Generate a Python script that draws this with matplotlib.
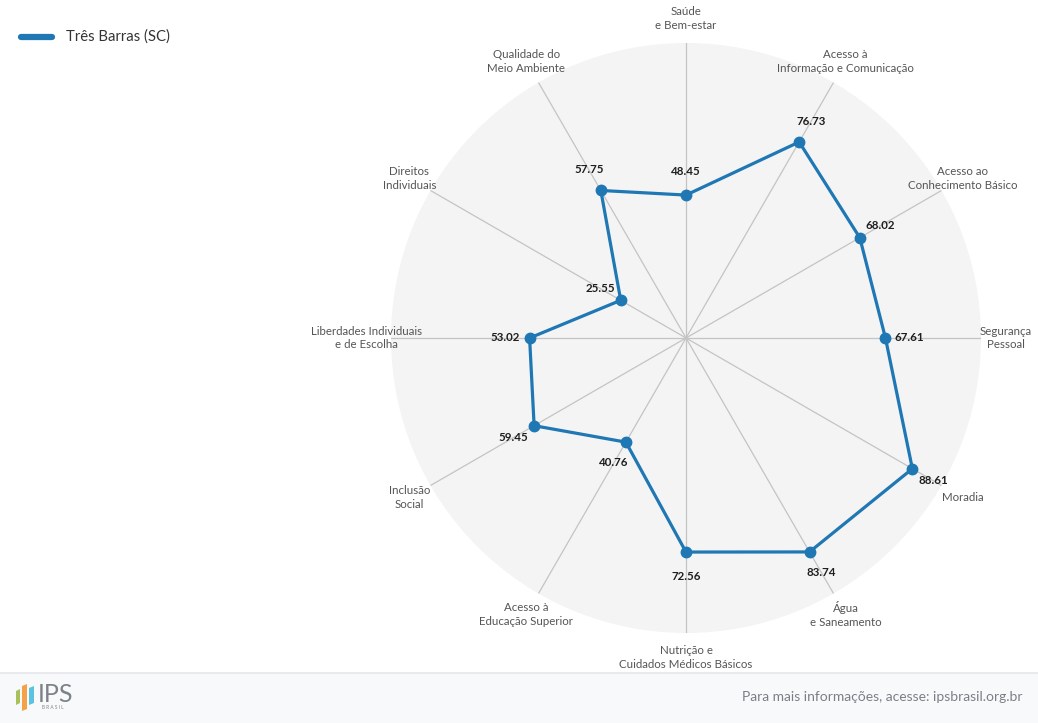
import numpy as np
import matplotlib
matplotlib.use("Agg")
import matplotlib.pyplot as plt
from matplotlib.patches import Polygon, Rectangle
from matplotlib.lines import Line2D

categories = [
    "Saúde\ne Bem-estar",
    "Acesso à\nInformação e Comunicação",
    "Acesso ao\nConhecimento Básico",
    "Segurança\nPessoal",
    "Moradia",
    "Água\ne Saneamento",
    "Nutrição e\nCuidados Médicos Básicos",
    "Acesso à\nEducação Superior",
    "Inclusão\nSocial",
    "Liberdades Individuais\ne de Escolha",
    "Direitos\nIndividuais",
    "Qualidade do\nMeio Ambiente",
]
values = [48.45, 76.73, 68.02, 67.61, 88.61, 83.74, 72.56, 40.76, 59.45, 53.02, 25.55, 57.75]
series_name = "Três Barras (SC)"

plt.rcParams['font.family'] = ['Lato', 'DejaVu Sans']

W, H = 1038, 723
fig = plt.figure(figsize=(W / 100, H / 100), dpi=100)
fig.patch.set_facecolor("white")

cx, cy, R = 686, 338, 295
ax = fig.add_axes([(cx - R) / W, (H - (cy + R)) / H, 2 * R / W, 2 * R / H], projection="polar")
ax.set_theta_zero_location("N")
ax.set_theta_direction(-1)
ax.set_facecolor("#f4f4f4")
ax.spines["polar"].set_visible(False)
ax.set_ylim(0, 100)

n = len(categories)
angles = np.arange(n) * 2 * np.pi / n
ax.set_xticks(angles)
ax.set_xticklabels([])
ax.set_yticks([])
ax.xaxis.grid(True, color="#c4c4c4", linewidth=0.9)
ax.yaxis.grid(False)

color = "#1f77b4"
ang_c = np.concatenate([angles, angles[:1]])
val_c = values + values[:1]
ax.plot(ang_c, val_c, color=color, linewidth=2.3, zorder=3, solid_joinstyle="miter")
ax.plot(angles, values, "o", color=color, markersize=7.5, zorder=4)

off = 24
for a, v in zip(angles, values):
    ax.annotate(f"{v:.2f}", xy=(a, v), xytext=(off * np.sin(a), off * np.cos(a)),
                textcoords="offset pixels", ha="center", va="center",
                fontsize=8.3, fontweight="bold", color="#1e1e1e", zorder=5)

for a, lab in zip(angles, categories):
    ax.text(a, 108.3, lab, ha="center", va="center", fontsize=8.3, color="#555555",
            linespacing=1.3, clip_on=False)

# Legend
fig.add_artist(Line2D([21 / W, 52 / W], [1 - 37 / H, 1 - 37 / H], color=color,
                      linewidth=4.5, solid_capstyle="round"))
fig.text(66 / W, 1 - 37 / H, series_name, ha="left", va="center", fontsize=10.7, color="#333333")

# Footer
fig.add_artist(Rectangle((0, 0), 1, 50 / H, transform=fig.transFigure,
                         facecolor="#f8f9fb", edgecolor="none", zorder=0))
fig.add_artist(Line2D([0, 1], [50 / H, 50 / H], color="#e8eaed", linewidth=1.5))
fig.text(1022 / W, 1 - 697 / H, "Para mais informações, acesse: ipsbrasil.org.br",
         ha="right", va="center", fontsize=10, color="#7a7f87")

def px_poly(pts, fc):
    fig.add_artist(Polygon([(x / W, 1 - y / H) for x, y in pts], closed=True,
                           transform=fig.transFigure, facecolor=fc, edgecolor="none"))

px_poly([(16, 691), (20, 689), (20, 703), (16, 705)], "#a8c15a")
px_poly([(22, 686), (27, 684), (27, 709), (22, 711)], "#f5a14a")
px_poly([(29, 688), (34, 686), (34, 703), (29, 705)], "#5bc3e0")
fig.text(38 / W, 1 - 695 / H, "IPS", ha="left", va="center", fontsize=18,
         color="#7d8288")
fig.text(42 / W, 1 - 707.5 / H, "B R A S I L", ha="left", va="center", fontsize=3.4, color="#7d8288")

fig.savefig("out.png", dpi=100)
